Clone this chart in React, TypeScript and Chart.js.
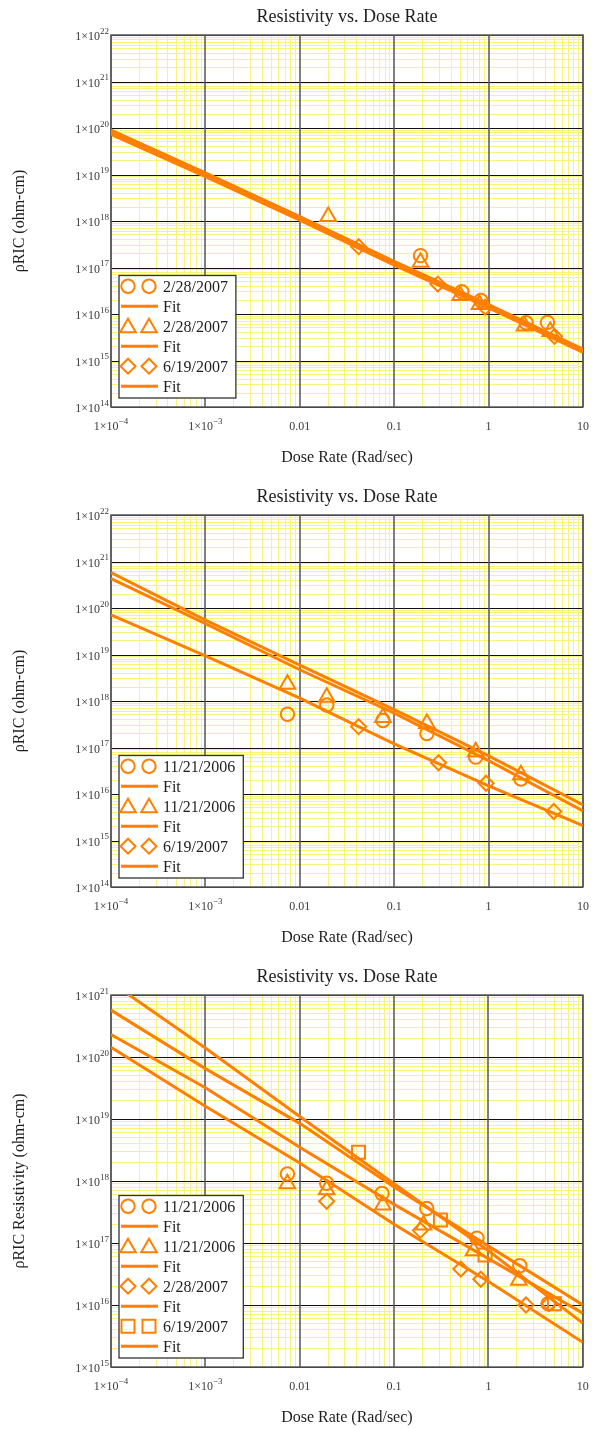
import { useEffect, useRef } from "react";
import { Chart, registerables } from "chart.js";

Chart.register(...registerables);

// ---------- shared axis definitions ----------
const X_MIN = 1e-4;
const X_MAX = 10;
const X_TICK_VALUES = [1e-4, 1e-3, 0.01, 0.1, 1, 10];
const X_TICK_BASE = ["1×10", "1×10", "0.01", "0.1", "1", "10"];
const X_TICK_EXP = ["−4", "−3", "", "", "", ""];

// Fit curves are sampled at these dose rates
const FIT_X = [1e-4, 1e-3, 1e-2, 0.1, 1, 10];

const TITLE = "Resistivity vs. Dose Rate";
const X_LABEL = "Dose Rate (Rad/sec)";

// ---------- panel 1 ----------
const P1_Y_EXPS = [14, 15, 16, 17, 18, 19, 20, 21, 22];
const P1_LABELS = ["2/28/2007", "2/28/2007", "6/19/2007"];
const P1_CIRCLE_X = [0.19, 0.52, 0.83, 2.5, 4.2];
const P1_CIRCLE_Y = [1.8e17, 3.0e16, 1.95e16, 6.5e15, 6.6e15];
const P1_TRIANGLE_X = [0.02, 0.19, 0.5, 0.8, 2.4, 4.5];
const P1_TRIANGLE_Y = [1.25e18, 1.3e17, 2.5e16, 1.6e16, 5.5e15, 4.2e15];
const P1_DIAMOND_X = [0.042, 0.29, 0.92, 5.0];
const P1_DIAMOND_Y = [2.8e17, 4.4e16, 1.4e16, 3.3e15];
const P1_FIT1 = [9.0e19, 1.08e19, 1.25e18, 1.35e17, 1.6e16, 1.75e15];
const P1_FIT2 = [8.1e19, 9.8e18, 1.15e18, 1.23e17, 1.48e16, 1.62e15];
const P1_FIT3 = [7.3e19, 9.0e18, 1.05e18, 1.12e17, 1.36e16, 1.5e15];

// ---------- panel 2 ----------
const P2_Y_EXPS = [14, 15, 16, 17, 18, 19, 20, 21, 22];
const P2_LABELS = ["11/21/2006", "11/21/2006", "6/19/2007"];
const P2_CIRCLE_X = [0.0074, 0.0193, 0.076, 0.222, 0.73, 2.2];
const P2_CIRCLE_Y = [5.2e17, 8.2e17, 3.8e17, 2.0e17, 6.2e16, 2.1e16];
const P2_TRIANGLE_X = [0.0074, 0.0193, 0.076, 0.222, 0.73, 2.2];
const P2_TRIANGLE_Y = [2.3e18, 1.2e18, 4.4e17, 3.3e17, 8.1e16, 2.6e16];
const P2_DIAMOND_X = [0.042, 0.295, 0.94, 4.9];
const P2_DIAMOND_Y = [2.8e17, 4.7e16, 1.7e16, 4.2e15];
const P2_FIT1 = [4.3e20, 4.6e19, 4.7e18, 5.5e17, 5.2e16, 4.3e15];
const P2_FIT2 = [5.75e20, 5.5e19, 5.9e18, 6.5e17, 6.6e16, 5.8e15];
const P2_FIT3 = [7.1e19, 9.3e18, 1.15e18, 1.2e17, 1.5e16, 2.1e15];

// ---------- panel 3 ----------
const P3_Y_EXPS = [15, 16, 17, 18, 19, 20, 21];
const P3_LABELS = ["11/21/2006", "11/21/2006", "2/28/2007", "6/19/2007"];
const P3_CIRCLE_X = [0.0074, 0.0193, 0.0745, 0.222, 0.755, 2.15, 4.3];
const P3_CIRCLE_Y = [1.3e18, 9.2e17, 6.3e17, 3.6e17, 1.2e17, 4.3e16, 1.05e16];
const P3_TRIANGLE_X = [0.0074, 0.0193, 0.076, 0.205, 0.695, 2.1];
const P3_TRIANGLE_Y = [9.0e17, 7.2e17, 4.1e17, 1.95e17, 7.5e16, 2.5e16];
const P3_DIAMOND_X = [0.0193, 0.19, 0.51, 0.83, 2.5, 4.4];
const P3_DIAMOND_Y = [4.7e17, 1.6e17, 3.8e16, 2.6e16, 1.0e16, 1.05e16];
const P3_SQUARE_X = [0.042, 0.31, 0.92, 5.0];
const P3_SQUARE_Y = [2.9e18, 2.35e17, 6.4e16, 1.05e16];
const P3_FIT1 = [5.7e20, 6.5e19, 8.5e18, 8.0e17, 8.9e16, 1.0e16];
const P3_FIT2 = [2.3e20, 3.2e19, 3.5e18, 4.2e17, 5.6e16, 7.4e15];
const P3_FIT3 = [1.44e20, 1.6e19, 1.95e18, 2.0e17, 2.4e16, 2.5e15];
const P3_FIT4 = [1.6e21, 1.4e20, 1.1e19, 9.0e17, 7.5e16, 5.1e15];

// ---------- styling ----------
const ORANGE = "#ff8000";
const SERIF = "'Liberation Serif', 'Times New Roman', serif";
const MINOR_GRID = "#f8f47a";

type Marker = "circle" | "triangle" | "rectRot" | "rect";

interface Series {
  label: string;
  marker: Marker;
  xs: number[];
  ys: number[];
  fit: number[];
}

interface Panel {
  top: number;
  height: number;
  yLabel: string;
  yExps: number[];
  series: Series[];
}

const MARKER_RADIUS: Record<Marker, number> = {
  circle: 6.7,
  triangle: 9,
  rectRot: 7.5,
  rect: 9.2,
};

const PANELS: Panel[] = [
  {
    top: 0,
    height: 480,
    yLabel: "ρRIC (ohm-cm)",
    yExps: P1_Y_EXPS,
    series: [
      { label: P1_LABELS[0], marker: "circle", xs: P1_CIRCLE_X, ys: P1_CIRCLE_Y, fit: P1_FIT1 },
      { label: P1_LABELS[1], marker: "triangle", xs: P1_TRIANGLE_X, ys: P1_TRIANGLE_Y, fit: P1_FIT2 },
      { label: P1_LABELS[2], marker: "rectRot", xs: P1_DIAMOND_X, ys: P1_DIAMOND_Y, fit: P1_FIT3 },
    ],
  },
  {
    top: 480,
    height: 480,
    yLabel: "ρRIC (ohm-cm)",
    yExps: P2_Y_EXPS,
    series: [
      { label: P2_LABELS[0], marker: "circle", xs: P2_CIRCLE_X, ys: P2_CIRCLE_Y, fit: P2_FIT1 },
      { label: P2_LABELS[1], marker: "triangle", xs: P2_TRIANGLE_X, ys: P2_TRIANGLE_Y, fit: P2_FIT2 },
      { label: P2_LABELS[2], marker: "rectRot", xs: P2_DIAMOND_X, ys: P2_DIAMOND_Y, fit: P2_FIT3 },
    ],
  },
  {
    top: 960,
    height: 469,
    yLabel: "ρRIC Resistivity (ohm-cm)",
    yExps: P3_Y_EXPS,
    series: [
      { label: P3_LABELS[0], marker: "circle", xs: P3_CIRCLE_X, ys: P3_CIRCLE_Y, fit: P3_FIT1 },
      { label: P3_LABELS[1], marker: "triangle", xs: P3_TRIANGLE_X, ys: P3_TRIANGLE_Y, fit: P3_FIT2 },
      { label: P3_LABELS[2], marker: "rectRot", xs: P3_DIAMOND_X, ys: P3_DIAMOND_Y, fit: P3_FIT3 },
      { label: P3_LABELS[3], marker: "rect", xs: P3_SQUARE_X, ys: P3_SQUARE_Y, fit: P3_FIT4 },
    ],
  },
];

// Gridline positions: 1..9 × 10^e for every decade in range
function logGrid(minExp: number, maxExp: number): number[] {
  const out: number[] = [];
  for (let e = minExp; e < maxExp; e++) {
    for (let m = 1; m <= 9; m++) out.push(Number((m * Math.pow(10, e)).toPrecision(12)));
  }
  out.push(Math.pow(10, maxExp));
  return out;
}

function isDecade(v: number): boolean {
  const l = Math.log10(v);
  return Math.abs(l - Math.round(l)) < 1e-6;
}

function drawMarker(ctx: CanvasRenderingContext2D, m: Marker, x: number, y: number) {
  const r = MARKER_RADIUS[m];
  ctx.beginPath();
  if (m === "circle") {
    ctx.arc(x, y, r, 0, Math.PI * 2);
  } else if (m === "triangle") {
    ctx.moveTo(x, y - r);
    ctx.lineTo(x + r * Math.sin((2 * Math.PI) / 3), y - r * Math.cos((2 * Math.PI) / 3));
    ctx.lineTo(x + r * Math.sin((4 * Math.PI) / 3), y - r * Math.cos((4 * Math.PI) / 3));
    ctx.closePath();
  } else if (m === "rectRot") {
    ctx.moveTo(x - r, y);
    ctx.lineTo(x, y - r);
    ctx.lineTo(x + r, y);
    ctx.lineTo(x, y + r);
    ctx.closePath();
  } else {
    const h = Math.SQRT1_2 * r;
    ctx.rect(x - h, y - h, 2 * h, 2 * h);
  }
  ctx.stroke();
}

// Draws "base" with an optional raised exponent; anchor: 'right' or 'center'
function drawPow(
  ctx: CanvasRenderingContext2D,
  base: string,
  exp: string,
  x: number,
  baseline: number,
  anchor: "right" | "center"
) {
  ctx.font = `12px ${SERIF}`;
  const bw = ctx.measureText(base).width;
  ctx.font = `9px ${SERIF}`;
  const ew = exp ? ctx.measureText(exp).width : 0;
  const total = bw + ew;
  const left = anchor === "right" ? x - total : x - total / 2;
  ctx.textAlign = "left";
  ctx.textBaseline = "alphabetic";
  ctx.font = `12px ${SERIF}`;
  ctx.fillText(base, left, baseline);
  if (exp) {
    ctx.font = `9px ${SERIF}`;
    ctx.fillText(exp, left + bw, baseline - 6.5);
  }
}

function makePlugin(panel: Panel) {
  return {
    id: "panelDecor",
    // decade gridlines and plot frame, above the yellow minor grid
    beforeDatasetsDraw(chart: Chart) {
      const { ctx, chartArea: a } = chart;
      const xs = chart.scales.x;
      const ys = chart.scales.y;
      ctx.save();
      ctx.lineWidth = 1;
      ctx.strokeStyle = "#111111";
      panel.yExps.forEach((e) => {
        const py = Math.round(ys.getPixelForValue(Math.pow(10, e))) + 0.5;
        ctx.beginPath();
        ctx.moveTo(a.left, py);
        ctx.lineTo(a.right, py);
        ctx.stroke();
      });
      ctx.lineWidth = 1.5;
      ctx.strokeStyle = "#555555";
      X_TICK_VALUES.forEach((v) => {
        const px = Math.round(xs.getPixelForValue(v));
        ctx.beginPath();
        ctx.moveTo(px, a.top);
        ctx.lineTo(px, a.bottom);
        ctx.stroke();
      });
      ctx.strokeStyle = "#5a5a5a";
      ctx.lineWidth = 1.5;
      ctx.strokeRect(a.left, a.top, a.right - a.left, a.bottom - a.top);
      ctx.restore();
    },
    afterDatasetsDraw(chart: Chart) {
      const { ctx, chartArea: a } = chart;
      ctx.save();
      ctx.font = `16px ${SERIF}`;
      const maxText = Math.max(...panel.series.map((s) => ctx.measureText(s.label).width));
      const rows = panel.series.length * 2;
      const w = 44 + maxText + 8;
      const h = rows * 20 + 2.5;
      const x0 = a.left + 8;
      const y0 = a.bottom - 9 - h;
      ctx.fillStyle = "#ffffff";
      ctx.fillRect(x0, y0, w, h);
      ctx.strokeStyle = "#333333";
      ctx.lineWidth = 1.3;
      ctx.strokeRect(x0, y0, w, h);
      panel.series.forEach((s, i) => {
        const cy1 = y0 + 10.7 + 40 * i;
        const cy2 = cy1 + 20;
        ctx.strokeStyle = ORANGE;
        ctx.lineWidth = 2;
        const off = s.marker === "triangle" ? 1.5 : 0;
        drawMarker(ctx, s.marker, x0 + 9, cy1 + off);
        drawMarker(ctx, s.marker, x0 + 30, cy1 + off);
        ctx.lineWidth = 3;
        ctx.beginPath();
        ctx.moveTo(x0 + 2, cy2);
        ctx.lineTo(x0 + 39, cy2);
        ctx.stroke();
        ctx.fillStyle = "#1e1e1e";
        ctx.font = `16px ${SERIF}`;
        ctx.textAlign = "left";
        ctx.textBaseline = "alphabetic";
        ctx.fillText(s.label, x0 + 44, cy1 + 5.5);
        ctx.fillText("Fit", x0 + 44, cy2 + 5.5);
      });
      ctx.restore();
    },
    afterDraw(chart: Chart) {
      const { ctx, chartArea: a } = chart;
      const xs = chart.scales.x;
      const ys = chart.scales.y;
      const cx = (a.left + a.right) / 2;
      ctx.save();
      ctx.fillStyle = "#1e1e1e";
      ctx.font = `18px ${SERIF}`;
      ctx.textAlign = "center";
      ctx.textBaseline = "alphabetic";
      ctx.fillText(TITLE, cx, 21.5);
      ctx.font = `16px ${SERIF}`;
      ctx.fillText(X_LABEL, cx, a.bottom + 55);
      ctx.save();
      ctx.translate(20, (a.top + a.bottom) / 2);
      ctx.rotate(-Math.PI / 2);
      ctx.textBaseline = "middle";
      ctx.fillText(panel.yLabel, 0, 0);
      ctx.restore();

      ctx.fillStyle = "#3a3a3a";
      panel.yExps.forEach((e) => {
        const py = ys.getPixelForValue(Math.pow(10, e));
        drawPow(ctx, "1×10", String(e), a.left - 2, py + 5, "right");
      });
      X_TICK_VALUES.forEach((v, i) => {
        const px = xs.getPixelForValue(v);
        drawPow(ctx, X_TICK_BASE[i], X_TICK_EXP[i], px, a.bottom + 23, "center");
      });
      ctx.restore();
    },
  };
}

function PanelChart({ panel }: { panel: Panel }) {
  const ref = useRef<HTMLCanvasElement | null>(null);

  useEffect(() => {
    if (!ref.current) return;
    const yMinExp = panel.yExps[0];
    const yMaxExp = panel.yExps[panel.yExps.length - 1];
    const datasets: any[] = [];
    panel.series.forEach((s) => {
      datasets.push({
        label: s.label,
        data: s.xs.map((x, i) => ({ x, y: s.ys[i] })),
        showLine: false,
        pointStyle: s.marker,
        pointRadius: MARKER_RADIUS[s.marker],
        pointBorderWidth: 2,
        pointBorderColor: ORANGE,
        pointBackgroundColor: "rgba(0,0,0,0)",
      });
      datasets.push({
        label: "Fit",
        data: FIT_X.map((x, i) => ({ x, y: s.fit[i] })),
        showLine: true,
        pointRadius: 0,
        borderColor: ORANGE,
        borderWidth: 3,
        tension: 0,
        fill: false,
      });
    });

    // yellow minor grid only; decade lines are drawn by the plugin
    const minorGrid = {
      drawTicks: false,
      color: (c: any) => (c.tick && isDecade(c.tick.value) ? "rgba(0,0,0,0)" : MINOR_GRID),
      lineWidth: 1,
    };

    const chart = new Chart(ref.current, {
      type: "scatter",
      data: { datasets },
      plugins: [makePlugin(panel)],
      options: {
        animation: false,
        responsive: false,
        events: [],
        layout: {
          padding: { left: 111, right: 9, top: 35, bottom: panel.height - 407 },
        },
        plugins: { legend: { display: false }, tooltip: { enabled: false } },
        scales: {
          x: {
            type: "logarithmic",
            min: X_MIN,
            max: X_MAX,
            ticks: { display: false },
            border: { display: false },
            grid: minorGrid,
            afterBuildTicks: (scale: any) => {
              scale.ticks = logGrid(-4, 1).map((value) => ({ value }));
            },
          },
          y: {
            type: "logarithmic",
            min: Math.pow(10, yMinExp),
            max: Math.pow(10, yMaxExp),
            ticks: { display: false },
            border: { display: false },
            grid: minorGrid,
            afterBuildTicks: (scale: any) => {
              scale.ticks = logGrid(yMinExp, yMaxExp).map((value) => ({ value }));
            },
          },
        },
      } as any,
    });
    return () => chart.destroy();
  }, [panel]);

  return (
    <canvas
      ref={ref}
      width={594}
      height={panel.height}
      style={{ position: "absolute", left: 0, top: panel.top, width: 594, height: panel.height }}
    />
  );
}

export default function App() {
  return (
    <div style={{ position: "absolute", left: 0, top: 0, width: 594, height: 1429, background: "#ffffff" }}>
      {PANELS.map((p, i) => (
        <PanelChart key={i} panel={p} />
      ))}
    </div>
  );
}
